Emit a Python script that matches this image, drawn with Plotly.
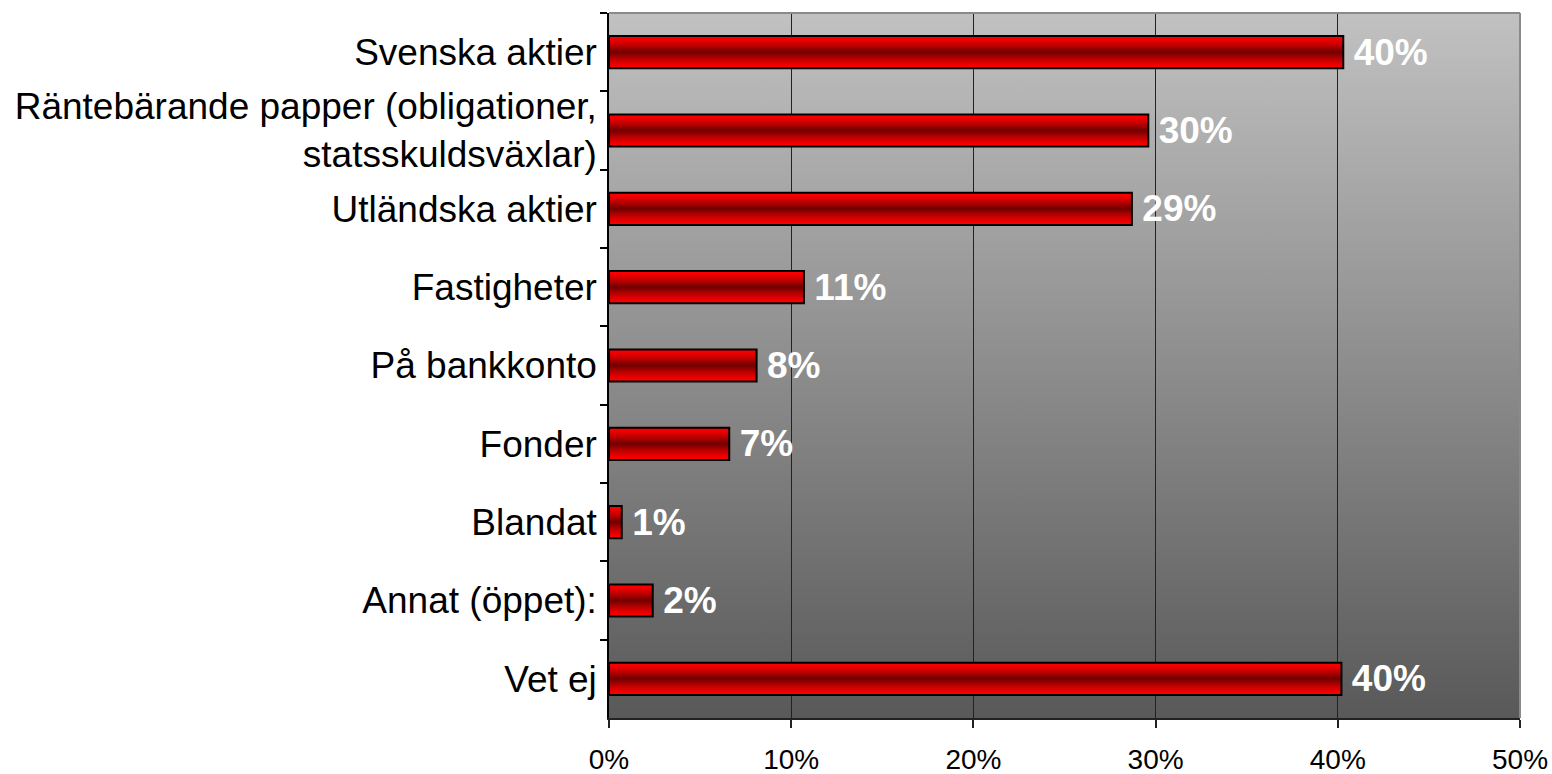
import base64
import plotly.graph_objects as go

# survey answers, top to bottom as in the chart
categories = [
    "Svenska aktier",
    "Räntebärande papper (obligationer,<br>statsskuldsväxlar)",
    "Utländska aktier",
    "Fastigheter",
    "På bankkonto",
    "Fonder",
    "Blandat",
    "Annat (öppet):",
    "Vet ej",
]
shares = [0.403, 0.296, 0.287, 0.107, 0.081, 0.066, 0.007, 0.024, 0.402]
x_ticks = [0, 0.1, 0.2, 0.3, 0.4, 0.5]
x_tick_labels = ["0%", "10%", "20%", "30%", "40%", "50%"]

value_labels = ["\u2009" + str(round(v * 100)) + "%" for v in shares]

FONT = "Liberation Sans, Arial, sans-serif"
bar_w = 0.41
n_layers = 16

fig = go.Figure()

# fake cylinder shading: stack narrower, darker bars on top of each other
for k in range(n_layers):
    t = (k / (n_layers - 1)) ** 1.3
    red = int(255 - (255 - 118) * t)
    fig.add_trace(go.Bar(
        y=categories, x=shares, orientation="h",
        width=bar_w * (1 - k / n_layers),
        marker=dict(color="rgb(%d,0,0)" % red, line=dict(width=0)),
        hoverinfo="skip", showlegend=False,
    ))

# outline + value labels on top
fig.add_trace(go.Bar(
    y=categories, x=shares, orientation="h", width=bar_w,
    marker=dict(color="rgba(0,0,0,0)", line=dict(color="black", width=2)),
    text=value_labels, textposition="outside", constraintext="none",
    textfont=dict(family=FONT, size=37, color="white", weight="bold"),
    cliponaxis=False, showlegend=False,
    hovertemplate="%{y}: %{x:.0%}<extra></extra>",
))

# grey vertical gradient behind the plot area
bg_svg = ('<svg xmlns="http://www.w3.org/2000/svg" width="10" height="100" viewBox="0 0 10 100" '
          'preserveAspectRatio="none"><defs><linearGradient id="g" x1="0" y1="0" x2="0" y2="1">'
          '<stop offset="0" stop-color="#c1c1c1"/><stop offset="1" stop-color="#595959"/>'
          '</linearGradient></defs><rect width="10" height="100" fill="url(#g)"/></svg>')
bg_src = "data:image/svg+xml;base64," + base64.b64encode(bg_svg.encode()).decode()

fig.update_layout(
    template="none",
    width=1552, height=774,
    margin=dict(l=609, r=32, t=13, b=56, autoexpand=False),
    paper_bgcolor="white", plot_bgcolor="rgba(0,0,0,0)",
    barmode="overlay",
    font=dict(family=FONT, color="black"),
    images=[dict(source=bg_src, xref="paper", yref="paper", x=0, y=1, sizex=1, sizey=1,
                 xanchor="left", yanchor="top", sizing="stretch", layer="below")],
    shapes=[
        dict(type="line", xref="paper", yref="paper", x0=0, x1=1, y0=1, y1=1,
             line=dict(color="#8a8a8a", width=2)),
        dict(type="line", xref="paper", yref="paper", x0=1, x1=1, y0=0, y1=1,
             line=dict(color="#8a8a8a", width=2)),
    ],
)

fig.update_xaxes(
    range=[0, 0.5], tickvals=x_ticks, ticktext=x_tick_labels,
    showgrid=True, gridcolor="#222222", gridwidth=1, zeroline=False,
    showline=True, linecolor="#222222", linewidth=1.5,
    ticks="outside", ticklen=8, tickcolor="#222222", tickwidth=1.5,
    tickfont=dict(family=FONT, size=28, color="black"),
    ticklabelstandoff=8, automargin=False,
)
fig.update_yaxes(
    type="category", autorange="reversed",
    showgrid=False, zeroline=False,
    showline=True, linecolor="black", linewidth=1.5,
    ticks="outside", tickson="boundaries", ticklen=7, tickcolor="black", tickwidth=1.5,
    tickfont=dict(family=FONT, size=37, color="black"),
    ticklabelstandoff=3, automargin=False,
)

# drop the default 8px body margin so the figure sits at the window's corner
fig.write_html("out.html", config={"displayModeBar": False},
               post_script="document.body.style.margin='0';")
